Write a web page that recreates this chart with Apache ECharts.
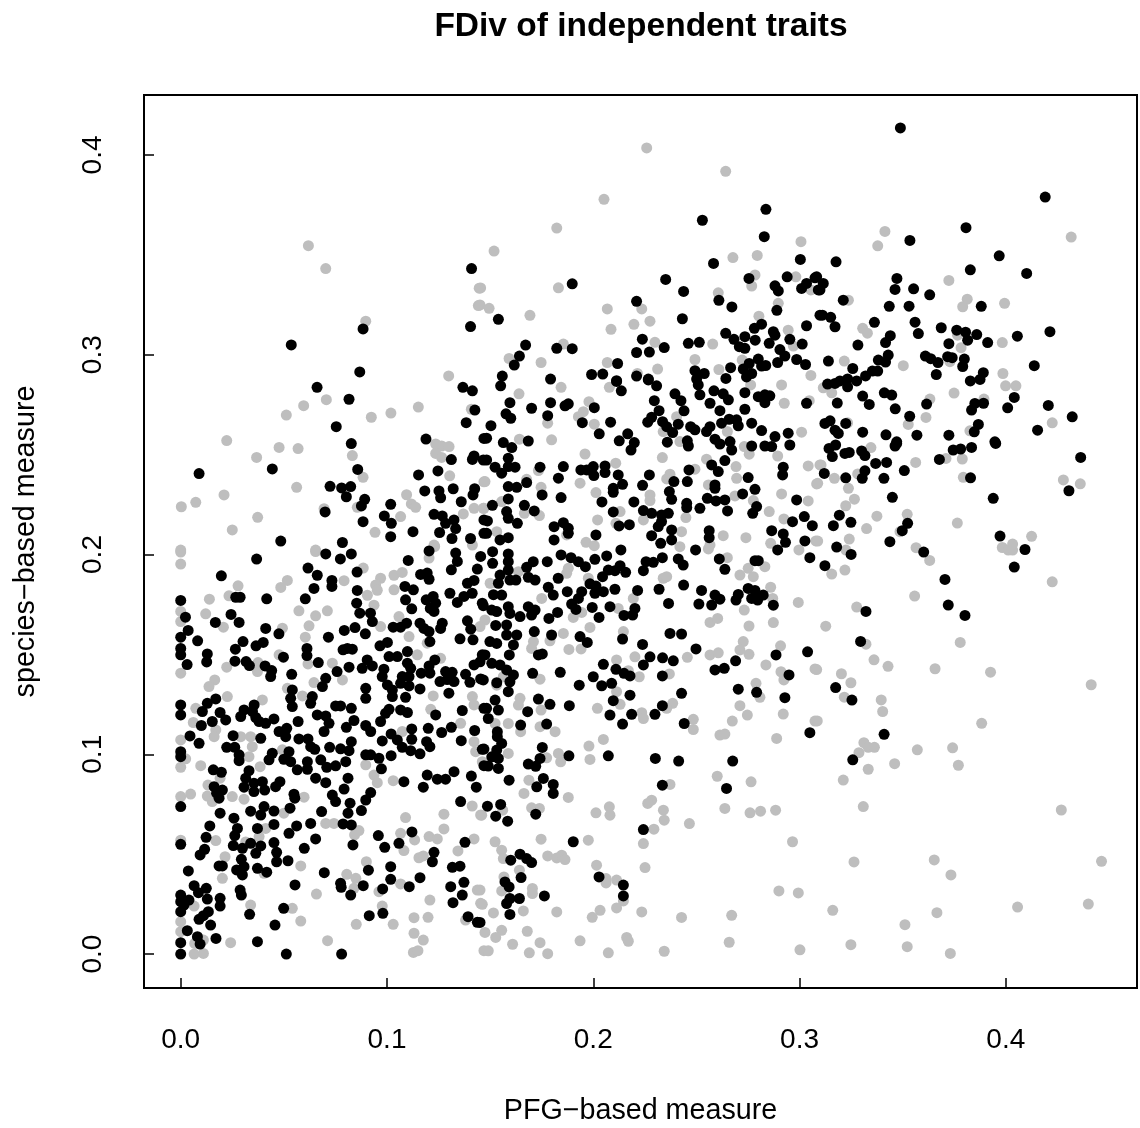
<!DOCTYPE html>
<html><head><meta charset="utf-8">
<style>html,body{margin:0;padding:0;background:#fff}#c{width:1140px;height:1128px}</style>
<script src="https://cdn.jsdelivr.net/npm/echarts@6/dist/echarts.min.js"></script>
</head><body><div id="c"></div>
<script>
// values in thousandths, as x,y pairs
const tickValues = [0, 0.1, 0.2, 0.3, 0.4];
const titleText = "FDiv of independent traits";
const xName = "PFG\u2212based measure";
const yName = "species\u2212based measure";

const blackLowerLeft = [36.8,197.7,19.7,189.3,70.3,200.3,78.4,206,48.5,206.7,82.7,200.3,77.4,197.8,61.7,193.2,66.2,189.6,85.5,191.2,73.3,187,73.3,184,64.6,183,85.6,182,60.4,177.8,0,177,26.7,178.6,28.8,178.6,41.7,177.8,85.3,175.6,86.8,170.6,2.3,168.6,24.4,170,16.8,166,28.3,166,92,170.6,92.9,166.4,84.5,163.4,3.6,162,0,158.6,41.2,163,47.6,160.3,79.3,162,89.5,160.3,71.6,158.6,8.2,156.8,30.2,156.4,40,156,36.5,154.3,26.5,152.6,0,153,0,149.8,12.9,150.2,12.6,146.2,3.1,144.9,26.3,146.6,31.7,146.4,33.3,144.4,40.9,144.2,44.1,141.9,43.6,138.9,49.8,148.6,61.2,153,61.2,149.4,66.7,145.9,53.8,140,78.7,152.3,83.2,152.6,80.8,153,81.6,143.6,75.8,141.4,88,143,90.4,147.2,92.9,144.2,96.6,154.3,100.2,156,109.9,151.4,101,148.9,105,148.9,109.9,145.6,111.5,143,110.7,138.9,98.5,142.6,97.7,138.9,100.2,134.7,102.6,132.2,106.6,135.5,110.7,134.2,107.4,138.9,103,163.6,106.6,163.6,109.5,165.6,116,165.6,117.9,163,120.4,161.4,120.8,156.4,108.7,184,112.8,182.3,109,177.3,112,172.8,120.4,201.8,110.3,197,116.3,190,119.5,190.7,120.4,187.6,119,177.3,122.4,179,123.6,175.6,122.8,171.5,121,173,126.8,165.6,126,163,131.2,192.3,133.3,200.7,134.1,196.5,143.8,192.7,145.4,199,130.5,180.6,134.1,176,137.3,179,141.3,180.6,139,185.6,142.2,187,146.2,175.6,139,166.8,140.6,162.6,135.4,157.8,141.7,157.3,123.2,147.2,120.4,144.2,116.6,140.6,120.8,140.6,125.7,136.4,128.4,141.4,131.6,141,129.2,137.4,132.5,136.4,138.1,140,140.2,136,145.4,137.7,142.2,144.7,146.2,149.8,116,132.7,130,130.6,89.7,133,89.7,128,70.3,138,68.7,133.9,63.8,128.9,63,125.5,54.1,132.2,53.3,128,54.1,123.9,75.1,124.2,77.5,124.2,82.7,123,66.2,119.7,70.3,119.2,71.9,115.5,69.5,111.4,56.9,116.4,84,116.9,80.3,113.5,89.7,114.4,92.1,111.4,96.9,116.4,99.3,120.5,101,122.5,102.6,128.9,106.6,122.2,109.9,120.9,109,128.5,123.6,119.7,136.5,121.9,147,123,131.2,113.5,126.5,110.9,120,113,142.5,111.9,136,106.8,146.2,102.5,112,112.7,112,107.5,102,110.2,97.7,106.7,105,107.2,107.4,103.5,111.5,101.8,116,100.2,102,99.3,119.2,106.3,120.8,103.8,89.7,99.7,92.1,99.7,96.1,98,97.3,92.7,82.7,106.3,77.5,102.7,81.6,101.8,72.2,103.5,57.3,107.7,61.7,107.7,63,103.8,65,102.5,38.8,108,47.7,111.4,50.9,108.8,51.4,113,45.2,117.7,41.2,115.5,38,116.4,36.4,118.4,29.1,118.9,30.7,122.2,34.8,121.4,35.6,124.7,15.3,116.4,10,114.4,10.5,121.4,12.9,125.5,17,127.7,19.1,120.9,21.8,117.2,0,124.7,0,119.7,4.5,109.2,8.9,105.5,25.4,109.3,22.3,103.5,26.2,103.5,28.3,99.7,28.3,96.8,0,101.3,0,98.8,44.4,100.5,42.8,97.2,52.5,101.3,50,97.5,53.3,96.3,56.5,92.2,61.4,96.3,61.4,92.5,67.9,97.2,70.8,93.5,75.1,94.2,80,96.3,15.8,92.2,19.7,91,33.1,91.8,31.5,88,30.7,83.5,35.5,81.3,35.5,85.5,39.6,86.3,40.7,82.1,48.1,86.3,46,83.8,65.4,88,70.3,85.8,79.2,82.6,81.1,88,16.2,83.8,20.2,82.1,18.6,78,17.4,80.5,54.9,80,55.3,78,73.5,79.6,75.1,76.3,82.1,75.5,81.1,70.5,87.6,71.8,92.1,80.8,89.7,77.1,0,73.8,19.1,70.5,40.4,73.8,33.9,71.5,38.8,69.6,45.2,71.6,53,73,68.3,71.3,25.8,68,14.1,64.1,27.5,62.9,26.2,59.3,37.2,62.9,45.2,64.9,56.2,64.1,52.5,60.4,63,65.4,65.4,57.6,78.7,65.1,82.7,64.6,95.8,59.3,98.9,53.4,105.8,55.4,112.1,61.1,137.8,55.9,83.5,54.6,0,54.9,12.3,58.4,11.6,52.4,9.4,49.6,25.5,54.3,29.9,52.9,33.9,55.4,38.8,54.1,36.4,50.4,45.2,55.8,46.5,50.9,46.5,46.2,52,46.7,59.9,52.9,18.6,44.1,20.2,44.1,29.4,47.4,27.1,42.1,30.7,43.7,29.9,39.6,37.2,42.9,41.7,41,3.7,41.6,69.6,40.7,91,42,101.8,43.7,101.8,37.4,77.5,35.4,77.8,33.4,82.4,29.5,88.5,34.2,97.9,32.6,110.8,33.7,116,38.2,122.8,50.9,122,46.2,131.7,43.4,135.4,44,130.9,33.7,137.3,35.9,136.5,29.5,132,25.7,139.3,18.7,143.8,15.9,55.4,34.6,6.5,34.2,8.6,30.7,12.4,32.9,12.9,27.5,0,29.5,0,26.2,4,27,1.6,24.5,0,21.2,19.1,27.9,19.1,24,28.8,32,29.4,29.5,13.4,21.2,11,19.2,8.9,17.4,14.5,14.5,3.2,11.7,8.1,8.7,9.4,5,17.1,7.8,0,5.7,0,0,37.2,6.2,33.4,19.9,49.9,22.9,45.7,14.5,51.2,0,78,0,91.4,19.2,98,20.4,119.5,89.6,124.4,87.5,128.4,87.5,132.5,91.3,117.6,83.5,108.2,86.3,140.9,89.1,143.3,83.5,135.7,76.3,147,94.3];

const blackUpperLeft = [141,343.1,88.4,312.9,140.5,314.1,53.6,304.9,86.8,291.4,66.1,283.7,136.8,283.7,141.4,281.9,81.6,277.7,142.6,272.3,138.4,266,75.4,264,118.9,257.8,147,258.1,82.7,255.5,131.2,247.5,142.2,249.3,141.4,247.6,146.7,247.3,8.9,240.5,44.4,242.8,85.8,242.6,124.7,241.8,115.3,239.8,72.4,234.1,78,233.3,82.4,234,80.3,228.9,118.3,231.8,125.2,231.8,126,228.4,132.1,232.9,136,226.4,142.5,232.9,141.7,229.8,89.2,227.6,87.6,224.3,101.8,225.1,70,221.3,88.4,216.4,98.7,219.3,102.1,215.6,101.8,208.9,112.6,211.4,122.8,220.1,126.8,219.3,128.4,215.6,132.5,217.3,133.3,213,125.5,211,131.5,208,140.5,208,147,217.3,147,210.6];

const blackMiddle = [155.1,284.4,159.6,276,170.1,273.2,179.3,276,177.9,269.5,187.9,275.4,186.3,274.4,200.5,273.5,157.7,270.4,160,268.2,150.4,264.5,148.3,258.2,156.4,256,160.5,253.5,168.5,256.8,194.7,266,208.4,266.2,202.9,260.4,216.7,260.4,212.6,256.9,219.9,256,218.3,252.3,213.6,281.9,211.3,286.6,230.7,284.4,226.7,287.4,229.6,277,239.6,280.4,242.5,277,231.9,272,244,271.9,226.4,266.2,228.3,268.7,233.6,266.5,235.6,264,238.5,261,241.2,265.2,247.2,264,249.3,262.4,235.9,256.2,245.6,256.9,246.1,254.3,250.9,284.9,251.7,279.9,258.5,281.9,263,280.4,265.5,277.4,256.6,275.7,261.4,272,273.5,281,273.5,272.7,280,279,283.2,279.9,285.6,279.4,283.2,276,303.4,275.7,262.2,265.7,265.9,267.7,269.5,267.4,270.3,264.4,276.8,265.7,281.6,262,256.6,264,254.9,261.5,259,257.7,261.4,255.3,266.3,256.5,267.1,252.3,263.8,247,276.8,254.3,283.2,254.3,286.5,254,288.1,259,294.5,260.7,295.3,254.8,148.3,247.3,152.4,243.7,155.6,240.7,158.8,248.2,158.8,244,162.1,243.7,174.2,243.7,185.5,244,183.1,238.2,194,242.3,196.8,242.3,200,244,200.3,239.5,205.7,244.3,205.7,241,212.1,239.8,214.2,235.1,227.2,239.8,223.9,234.6,246.4,242.3,239.1,236.5,245.6,236.5,257.4,244.8,260.6,241.5,259,234.8,259,233.1,275.1,238.5,278.4,232.6,292.1,243.7,291.8,239.8,236.9,231.5,238,227.6,209.7,233.1,209.7,231.1,158.8,234,162.9,233.6,167.7,236,175.2,229.8,184.4,228.5,158.8,227.8,151.1,224.6,166.6,224.6,171.4,221.8,158,221.5,158.8,218.1,163.2,215.6,148.7,216.8,148.3,210.6,204.2,226.3,219.7,226.3,209.7,221.3,245.3,225.6,245.3,223.5,251.7,223.1,255.3,228.1,259.5,226.8,263.8,227.3,265.1,221.8,272.4,230.3,279.2,224,277.3,220.6,298.6,227.3,224.3,222,228.3,220.6,233.1,219.8,236.4,220.6,233.1,216.5,231.5,214,228.3,209.4,238,212.3,238,207.3,232.7,205.6,212.5,214.3,217.5,214.9,302.3,219,296.6,216.4,306.2,214.4,256.2,211.9,256.2,208.4,286.5,211.9,292.1,210.3,293.2,206.1,302.6,206.8,289.4,202.3,305,198.4,181,213.9,185.5,215.9,187.9,213.1,187.9,210.6,181,207.3,201.3,209.8,154.8,207.3,158.8,208.4,151.2,201.4,158.8,200.3,249.6,202.3,213.4,202.3,184.4,199.8,189.2,198.4,192.8,196.4,196.2,193.9,200.8,197.6,206.5,199.3,233.5,198.4,229.1,196.1,225.6,196.4,224.3,191.9,241.2,197.8,243.6,194.7,261.1,197.8,263.8,192.6,278.4,196.9,280,196.9,177.7,196.4,170.9,196.4,167.7,193.6,151.2,195.6,158.8,196.4,158.8,192.2,154.8,189.7,159.6,187.2,162.5,187.2,154,185.6,168.5,188.6,171.8,187.2,183,188.1,178.2,183.6,180.6,179.7,187.4,181.4,204.5,188.9,207.3,192.2,210.5,191.9,213,194.4,215.7,191.1,198.4,185.3,201.3,184.2,204.9,181.4,200.8,180.6,194.4,181.4,192.8,178,189.5,175.2,191.6,172.5,210.5,182.6,221.5,182,231.9,182.6,243.8,184.7,252.5,182,251.2,175.2,257.4,174.7,259,179.7,261.4,177.6,236.5,175.5,270.3,180,269.2,177.2,275.1,183,278.4,182,282.4,179.7,276.8,178,279.7,177.2,287.3,174.6,151.6,179.9,155.6,179.7,146.7,174.4,150.8,172.2,153.2,171.4,158.8,173.9,159.6,170.5,164.5,168.9,158,164.7,168.5,173.9,171.8,172.2,170.1,169.7,182.7,171,178.5,168,199.5,173.5,202.8,168.5,208.1,173.9,214.9,169.5,219.1,169.7,220.2,173,152.7,164.5,171.4,161.4,179.8,159.7,162.9,159.7,158,159.7,161.3,154.7,159.3,149.7,149.9,156.4,153.2,155.5,193.6,158.9,197.1,156,214.2,157.7,223.9,155,237.2,160.5,242.8,160.2,249.8,152.7,303.9,151.3,288.6,149.7,269,146.8,259,142.2,263.5,143,233.6,148.3,238.8,146.8,227.5,148.8,224.3,144.7,204.9,145,173.4,149.7,175.3,150.2,147.5,149.7,145.1,146.3,150.8,145.5,154.8,144.7,158,142.2,161.3,139.7,159.6,136.3,158.8,131.3,146.7,137.2,153.2,135.8,170.6,140.5,184,141,211,142.5,214.9,140.5,217.8,139.2,233.5,139.2,200,138.8,193.2,134.6,204.1,134.3,208.9,135.5,294.9,139.7,270.3,132.6,279.2,131,292.9,128.3,242.8,130.5,217.8,129.6,209.7,126.8,173.4,127.6,179,125,188.4,124.3,152.4,127.1,154,122.1,168.2,121.3,148.3,123,233.5,124.3,229.9,120,218.6,120,208.1,119.6];

const blackLowerMiddle = [149.1,117.9,164.8,114.6,177.4,115.1,153.5,111.3,153.5,108.8,155.6,105.4,147,102.6,153.2,102.1,150.8,98.7,154,97.9,154,92.9,149.1,94.1,175.3,103.4,174.2,97.9,168.5,95.1,172.1,94,188.2,99.2,207.3,99.2,214.2,115.1,244.1,115.4,230.1,97.9,241.4,96.6,267.6,96.6,305,110.8,159.2,87,175.8,87.9,172.6,83.7,180.6,84.9,180.6,80.4,233.5,84.5,264.6,82.9,155.1,74.9,148.7,74,152.7,69,158.5,66.5,172.1,70,224.3,62.3,190.3,56.2,164.5,50,167.7,47.8,170.1,45.8,160,47,202.8,38.6,214.6,34.5,214.6,29.1,165,38.3,157.2,36.1,159.2,33.6,176.3,29.1,164.2,27.8,159.6,27.8,158,25.3,159.6,19.8,145.1,15.8];

const blackUpperMiddle = [283.7,372.8,252.9,367.3,282.9,359.1,300.4,347.7,258.3,345.7,275.5,338.2,294,339,307.5,338.5,189.8,335.5,235.1,337.7,288.1,334.5,289.7,331.9,301,333.2,303.4,335.7,309.1,332.4,243.8,331.7,221,326.7,260.9,327.2,267.2,323.9,289,322.2,154,317.7,243.2,318,309.9,319.8,303.4,314.5,281.6,315.3,278.1,313.2,264.2,310.7,268.2,307.7,273.5,309,278.5,307.3,287.3,311.5,288.1,309.8,295.3,307.7,301.3,305.3,285.3,305.7,223.8,307.8,246.1,305.7,251.4,306.2,270.8,304,273.5,303.2,234.4,303.6,167.2,304.8,164.2,299.3,161.7,294.8,182.3,303.2,189.8,303,221,301.1,227.2,301.3,290.5,302.6,292.9,299.3,298.6,297.6,289.4,296.1,302.9,295.1,280,297.8,275.6,295.6,272.7,292.8,281.6,294.3,283.6,294.6,266.6,293.5,276.8,290.6,274.3,288.9,264.3,288.1,211.8,295.6,199.2,290.1,204.6,290.3,211.3,287,155.9,289.3,179.3,287.8,221,289.3,226.7,287.8,249.3,292,253.8,290.6,250.1,287.8];

const blackRight = [348.9,413.5,419.1,378.9,380.7,363.6,353.5,357.2,396.8,349.5,317.7,346.5,382.8,342.5,410.1,340.7,308.3,339,311.5,335.7,309.9,332.4,347.2,338.2,346.3,332.7,355.3,333,363.1,330,321.2,327.3,343.5,324.2,353.1,324.3,388.1,324.2,311.1,319.8,315.1,318.7,317.2,314,336.3,316.2,356,316.3,357.6,310.6,368.7,313.5,376.2,312.3,380.5,311.3,385.9,310.1,381.5,307.3,391.2,306.1,372.4,305.5,421.4,311.5,405.6,309.3,344,309.5,341.7,306.1,328.3,304.8,343,299.8,338.2,297.3,341.7,296.3,314,296.8,361,299.3,363.6,298,367.1,296.1,371.8,299,374,298.5,379.9,297.8,379.1,294.1,389.1,291,413.8,294.5,325.8,293.1,337.9,291.8,335.3,291.8,332,289.4,327.7,286.9,323.3,287.9,319.6,286.9,317.2,285.6,313.6,285.3,323.3,283.9,366.3,290.1,382.8,286.9,387.5,287.6,341.1,280.9,344.7,279.8,330.6,279.3,333.8,275.1,318.3,275.8,346.4,272.9,353.4,269.2,361.6,275.3,385,275.6,389.2,275.7,383.4,272.3,400.9,273.4,404.1,278.6,420.6,274.6,432.2,268.9,386.7,265.1,384.7,261.4,415.4,262.2,312.3,265.6,314.8,266.9,322.4,265.6,317.2,262.2,318.8,260.6,330.6,261.2,341.9,259.9,356.9,259.7,372.4,259.7,347.1,256.4,394.7,256.4,317.5,254.8,314.3,253.1,315.9,249,322,250.6,324.1,251.1,330.1,251.8,331.7,249.5,336.9,245.6,342.2,246.1,347.1,255.6,346.3,254.3,367.8,247.6,374.5,252.3,378.1,252.8,383.4,253.6,395.1,255.6,436.3,248.6,350.8,242,340.9,238.1,331.7,241.9,330.4,238.1,322.4,238.4,312,240.6,382.9,238.4,345,228.6,393.9,228.1,430.6,231.9,319.3,219.7,316.4,214.4,324.9,216.1,352.4,215.6,349.8,211.9,343.8,206.4,397.2,209.2,318,203.7,325,200,360.2,201.2,409.3,202.5,404.1,193.7,312.3,194.4,370.5,187.5,372.1,174.7,380.2,169.5,332.2,171.5,329.6,156.5,317.5,133.4,325.4,127.1,341,110,325.8,97.2];

const grayLowerLeft = [0,201.2,0,195.2,65.4,201.5,27.8,184.3,23.4,179.3,13.9,177.6,51.7,187,48.5,183.5,79.2,186.9,57.3,171.8,65.4,169.3,71.1,171.8,12.1,170.3,0,171.5,0,166.4,20.7,163.6,62.2,164.3,60.4,158.6,49.3,163.1,88.5,193.2,96.9,188.1,94.5,184.7,95.3,182.1,90.5,179.6,93.7,174.6,103.4,189.6,107.4,191,103.4,182.3,120.4,198.2,123.1,204,96.9,163.9,105.8,168.9,110.7,158.9,119.5,155.6,114.7,149.8,126,148,0,140.6,22.3,143.6,37.5,145.9,37.2,141.4,47.7,149.8,61.7,145.2,73.5,145.6,78.4,137.2,64.6,135.9,16.5,137.2,13.7,133.9,22.6,128.9,39.6,127.2,51.7,133,59,129.2,122.4,129.2,121.2,122.5,141.4,128.9,142.2,124.7,135.7,115.5,7.3,123,6.1,115.9,17,112.2,16.2,108.8,0,107.2,29.1,108.8,33.9,108.8,34.7,103.8,33.1,98.8,49.3,102.2,107.4,111.4,142.2,106.3,143,101.3,146.2,96.3,2.4,97.7,0,93.5,9.7,94.3,38.5,93.8,89.7,94.7,93.7,89.6,95.3,85.8,103,86.8,19.1,88,13.2,84.6,0,78.8,4.8,80.1,12.9,79.1,25,78.8,30.7,77.5,59.8,78.5,15.3,76.3,141.3,74.1,145.4,69.6,50,70.5,109,68.3,127.6,70,127.6,62.6,70.3,65.4,74.3,65.4,86.4,61.8,84.3,59.6,106.6,60.4,113.4,57.1,108.2,51.8,120.4,58.8,124.4,57.6,142.2,57.6,0,57,17,56.8,31.5,56.1,38,58.8,41.2,62.9,115.5,48.2,117.6,49.1,134.4,51.6,21.5,48.7,58.2,44.1,90,46.2,20.2,37.9,40.4,40.4,80.5,39.9,84.9,37.9,84,32.9,106.6,35.1,96.1,31.2,65.8,30,33.9,24.5,143.8,32,145.4,25.4,120.8,27,6.5,24,54.1,22.9,58.2,16.5,97.7,24,113.1,18.2,119.9,18.4,103,14.9,85.1,14.9,138.1,17,0,16.2,0,11.2,113.1,10.4,117.6,7,24.2,5.7,71.2,6.7,112.8,0.8,115,1.7,6.5,0,11,0.3,6.8,5.3,11,7,147,1.7];

const grayUpperLeft = [61.9,354.6,70.3,343.1,144.7,333.3,144.3,324.6,89.7,316.8,129.9,289.4,70.6,277.5,59.6,274.5,51.2,269.8,92.4,268.7,101.9,270.8,115.2,273.8,140.9,272.7,22.3,257,36.8,248.6,47.7,253.6,56.9,253,83.2,249.5,123.6,255.3,126.5,254.3,130.1,254,123.6,250.6,126.5,248.6,88.4,238.6,56.2,233.6,21,229.8,7.3,226.1,0.3,223.9,130.4,239.4,147,236.4,109.5,229.9,111.8,225.3,113.9,223.6,37.3,218.6,25,212.3,69.5,222.9,85.6,223.6,106.6,219,94.2,211.1,137,220.3,142.2,223.1,147,223.1,0,202.2,65.4,202.2,122.8,204.7,141.4,204.7];

const grayMiddle = [164,280.4,184.4,283.7,207.8,283.7,291.3,284.9,276.3,284.9,292.6,275.7,304.7,277,197.9,276.5,195.2,271.5,192.8,269,177.9,265.7,200.5,265.2,179.8,257.4,164.2,257.7,301,261.2,240.4,269,233.9,261.5,242,256.5,265,261.5,196,250.3,210.9,245.7,233.5,248.5,254.9,247.7,273.2,254,275.6,250.2,289.4,249.3,269.2,244,269.5,238.1,304.2,244.3,309.9,244.8,249.3,242.7,237.2,240.2,235.6,237.8,173.4,242,167.7,237.6,147.5,236.5,174.7,233.6,193.6,235.7,255.8,234.8,308.3,235.3,201.3,231,227.5,229.8,227.5,227,291.3,230.3,304.2,226.8,277.6,227,268.7,229.3,146.7,223.1,155.6,226.5,166.6,220.6,173.9,219.5,213,221.5,244.9,218.5,285.3,221.5,292.4,217.8,202.1,217.3,211,215.6,224.3,217.3,153.2,211.4,242.8,211.4,263,209.4,274,208.4,196.5,206.1,200.5,204.4,187.1,209.8,242,203.9,255.8,202.8,256.6,204.8,286,205.6,299.7,202.3,307.9,206.8,265,198.4,283.2,193.9,275.1,193.1,271.1,189.7,277.6,188.9,187.9,193.1,187.1,190.6,150,185.6,163.7,191.4,233.9,188.1,235.6,188.9,197.6,188.1,286,183.6,219.4,178,299.4,176,287,178,175,178,273.2,172.2,212.1,173,190.3,168.5,194.4,171,147.5,167.2,145.1,163.9,256.6,166,260.3,168,275.5,164.2,287.3,165.9,198.4,163.5,185.5,160.5,179,156.8,214.6,161.4,171,156.4,170.1,153,188.2,152.5,194.1,152.7,272.7,156.4,271.1,152.2,275.5,150,290.8,154.3,256.6,149.7,260.6,150.8,245.6,148.5,220.2,148.8,211.3,147.2,283.7,144.7,291,141.3,307.5,142.7,292.4,137.2,236.9,140.2,222.3,138.8,217,141.8,174.2,137.6,156.4,138.8,153.2,134.6,278.9,135.5,280.8,128.5,211.3,131.3,213,125,164.5,128,163.7,124.6,174.7,122.1,202,123,238.5,125.5,235.6,123,271.1,124.3,274.7,119.6,292.1,120.1,223.5,120.8,248.5,117.5];

const grayLowerMiddle = [158.8,115.4,152.4,115.4,181.5,111.3,174.2,113.8,164.8,111.3,224.3,117.9,248.5,112.4,267.4,116.6,307.5,116.6,261.4,109.6,263.8,110.1,288.9,107.9,204.9,107.4,197.9,104.1,198.4,97.4,158.8,100.4,177.4,98.2,183.1,100.4,184.2,96.2,260.1,89,276.5,86.2,237.2,84.9,168.8,87,166.4,80.4,187.9,78.4,228.3,77,226.4,75.4,263.8,72.9,276,70.7,281.1,71.5,288.4,72,234,72,234.4,67,246.6,65.3,207.8,73.7,208.1,69.5,201.3,70.7,170.1,73.2,173.9,72.9,156.1,72,145.9,69.5,229.4,62.5,224.3,55.3,296.6,56.2,197.6,57,174.7,57.5,152.4,56.2,155.6,52,156.4,47.8,177.9,49.1,182.3,48.1,184.7,49.5,186.3,47.3,201.6,44.5,225.1,43.3,164.2,42,156.7,38.6,206.2,37.8,206.2,35.6,211.3,37,170.5,32.8,170.5,30.3,155.6,31.6,290,31.6,299.4,30.6,214.6,26.6,211.3,23.1,203.3,21.9,199.5,18.4,223.5,21.1,242.8,18.3,267.1,19.4,146.2,24.9,151.6,20.6,166.1,21.6,182.3,21.1,155.6,11.9,147.5,10.8,152.7,8.3,168,11.4,160.9,4.9,174.2,5.7,193.6,6.6,216.2,8.3,217,6.4,265.9,5.9,149.1,1.6,169,0.6,177.9,0.2,207.3,0.6,234.4,1.4,300.2,2.1,145.1,32];

const grayUpperMiddle = [225.9,403.5,264.2,391.8,205.2,377.8,182.3,363.4,151.9,351.9,300.7,356.6,267.7,348.6,279.5,349.7,278.4,339.9,276.8,334.4,298.2,339,145.4,333.4,183.1,333.5,260.6,331,145.1,324.9,149.5,323.2,169.3,319.7,206.8,322.9,223.5,322.9,289.7,325.7,305.5,332.4,280.3,319.3,227.5,316.8,219.7,315.2,208.6,312.7,294.5,312.3,229.9,306.2,257.9,305.3,297,304.3,185.5,305.3,159.2,298.1,174.7,296.1,206.8,296.1,249.3,297.6,231.2,292.8,260.9,292.6,272.2,297.3,305.5,289.6,221.4,290.6];

const grayRight = [341.4,361.7,337.9,354.5,431.7,358.9,372.4,337.2,323.7,327.3,381.3,327.8,379.1,324,399.4,325.7,330.6,313.2,332.9,310.8,376.6,309.8,378.3,303.5,398.3,306.1,321.7,296.8,350.3,294.5,372.9,296.5,398.6,290.6,399.9,284.4,404.9,284.4,311.5,283.4,315.6,280.9,374.9,280.8,363.2,277.8,389.4,277.8,361.3,268.6,352.7,265.1,422.5,265.9,323.3,265.9,382.6,261.9,334.6,253.5,356.3,246.1,371,248.1,378.9,247.8,310.4,244.8,316.9,238.1,308.8,235.6,328.2,240.3,379.4,238.6,427.9,237.3,436.1,235.4,323.7,233.1,326.6,227.7,322.4,224.4,337.5,219.2,352.2,220.1,332.5,213,376.5,215.7,348.7,211.4,412.5,209.1,324.1,207.7,308.8,206.7,322.5,202.2,356.5,203.4,363.1,197,398.3,203.5,401.2,202.2,403.3,202.2,403.3,205.2,315.6,190.2,322,192.2,422.5,186.3,355.8,179.2,327.7,173.7,312.7,164.1,332.2,155.1,377.9,156,336.1,147.3,342.9,144,365.7,142.8,392.6,141.1,308.3,142.4,320.3,140.3,324.9,135.8,321.7,128.6,339.6,127.2,340.3,121.4,441.4,134.8,308.6,116.7,331.2,105.8,333.3,103.5,336.3,103.5,328.8,100.8,357.1,102.2,374.2,103.2,377,94.5,388.3,115.5,346.1,95.3,333.3,92.5,321.2,87.1,330.9,73.8,426.9,72.1,326.4,46.1,365.3,47.1,373.4,39.6,446.4,46.4,316.1,21.9,366.6,20.7,351.1,14.7,405.7,23.5,440,25,324.9,4.7,352.2,3.7,373.1,0.3];

function toPairs() {
  const out = [];
  for (const arr of arguments) {
    for (let i = 0; i + 1 < arr.length; i += 2) out.push([arr[i] / 1000, arr[i + 1] / 1000]);
  }
  return out;
}
const blackData = toPairs(blackLowerLeft, blackUpperLeft, blackMiddle, blackLowerMiddle, blackUpperMiddle, blackRight);
const grayData = toPairs(grayLowerLeft, grayUpperLeft, grayMiddle, grayLowerMiddle, grayUpperMiddle, grayRight);

const font = "'Liberation Sans', Arial, sans-serif";
const chart = echarts.init(document.getElementById('c'), null, {renderer: 'canvas'});
function axisBase() {
  return {
    type: 'value', scale: false, splitLine: {show: false},
    axisLine: {show: true, onZero: false, lineStyle: {color: '#000', width: 2}},
    axisTick: {show: true, inside: true, length: 10, lineStyle: {color: '#000', width: 1.5}, customValues: tickValues},
    axisLabel: {show: true, inside: false, color: '#000', fontFamily: font, fontSize: 28,
      customValues: tickValues, formatter: v => Number(v).toFixed(1), showMinLabel: true, showMaxLabel: true}
  };
}
const xAxis = axisBase();
Object.assign(xAxis, {min: -0.0178, max: 0.4636, name: xName, nameLocation: 'middle', nameGap: 109,
  nameTextStyle: {color: '#000', fontFamily: font, fontSize: 28.7}});
xAxis.axisLabel.margin = 38;
const yAxis = axisBase();
Object.assign(yAxis, {min: -0.017, max: 0.43, name: yName, nameLocation: 'middle', nameGap: 103,
  nameTextStyle: {color: '#000', fontFamily: font, fontSize: 28.7}});
yAxis.axisLabel.rotate = 90;
yAxis.axisLabel.margin = 37;

chart.setOption({
  animation: false,
  backgroundColor: '#fff',
  title: {text: titleText, left: 636, top: 5, textAlign: 'center',
    textStyle: {color: '#000', fontFamily: font, fontWeight: 'bold', fontSize: 33.5}},
  grid: {left: 144, right: 3, top: 95, bottom: 140, show: true, borderColor: '#000', borderWidth: 2,
    backgroundColor: 'transparent', outerBoundsMode: 'none'},
  xAxis: xAxis,
  yAxis: yAxis,
  series: [
    {type: 'scatter', name: 'gray', data: grayData, symbolSize: 11, itemStyle: {color: '#bebebe', opacity: 1}, z: 2, silent: true},
    {type: 'scatter', name: 'black', data: blackData, symbolSize: 11, itemStyle: {color: '#000', opacity: 1}, z: 3, silent: true}
  ]
});
</script></body></html>
